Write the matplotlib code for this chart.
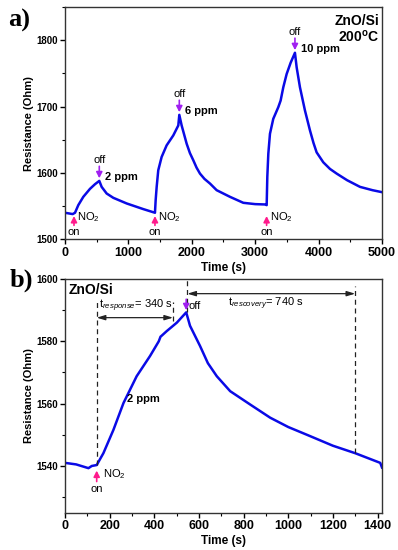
import matplotlib
matplotlib.use("Agg")
import matplotlib.pyplot as plt
from matplotlib.ticker import MultipleLocator

plt.rcParams['font.family'] = ['Liberation Sans', 'DejaVu Sans']
plt.rcParams['mathtext.fontset'] = 'custom'
plt.rcParams['mathtext.rm'] = 'Liberation Sans'
plt.rcParams['mathtext.it'] = 'Liberation Sans:italic'
plt.rcParams['mathtext.bf'] = 'Liberation Sans:bold'

# ---------------- data panel a ----------------
time_a = [0, 121, 158, 210, 289, 394, 473, 541, 578, 657, 762, 973, 1235, 1419,
          1430, 1446, 1471, 1524, 1603, 1708, 1787, 1803,
          1840, 1919, 1970, 2024, 2075, 2129, 2200, 2287, 2392, 2602, 2812, 3000, 3154, 3181,
          3191, 3207, 3233, 3285, 3364, 3401, 3443, 3496, 3559, 3627,
          3654, 3706, 3785, 3864, 3920, 3969, 4074, 4180, 4285, 4450, 4653, 4850, 5000]
res_a = [1540, 1538, 1540, 1551.5, 1564, 1576, 1583, 1588, 1579, 1569, 1562.5, 1554, 1545.5, 1540,
         1559, 1579, 1604, 1624, 1641.5, 1656.5, 1671.5, 1687.5,
         1671.5, 1644, 1630, 1619, 1608, 1599, 1591, 1584, 1574, 1564, 1555, 1553, 1552.5, 1551.5,
         1594, 1629, 1659, 1681.5, 1699, 1709, 1729, 1749, 1766, 1781,
         1759, 1729, 1694, 1664, 1645, 1631, 1616, 1606, 1599, 1589, 1579, 1574, 1571]
on_times_a = [142, 1419, 3180]
off_times_a = [541, 1803, 3627]
off_res_a = [1588, 1687.5, 1781]
ppm_labels = ['2 ppm', '6 ppm', '10 ppm']

# ---------------- data panel b ----------------
time_b = [0, 50, 105, 120, 142, 172, 217, 262, 321, 381, 420, 428, 433, 456, 501, 543,
          560, 605, 640, 680, 740, 830, 919, 1000, 1084, 1200, 1300, 1412, 1420]
res_b = [1541, 1540.5, 1539.3, 1540, 1540.3, 1544.1, 1551.6, 1560.2, 1568.8, 1575.3,
         1580, 1581.5, 1581.8, 1583.3, 1586, 1589.3,
         1585, 1578.5, 1573, 1568.8, 1564, 1559.7, 1555.5, 1552.5, 1550, 1546.5, 1544.1, 1541, 1539.5]
t_on_b = 142
t_resp_end = 484
t_off_b = 543
t_rec_end = 1300

line_color = '#0a0ae6'
on_color = '#ff1a8c'
off_color = '#a020f0'

fig = plt.figure(figsize=(3.98, 5.5), dpi=100)
axA = fig.add_axes([0.1633, 0.5649, 0.7965, 0.4224])
axB = fig.add_axes([0.1633, 0.0678, 0.7965, 0.4249])

def style(ax):
    for s in ax.spines.values():
        s.set_linewidth(1.0)
        s.set_color('#333333')
    ax.tick_params(axis='both', which='major', direction='out', length=3.5, width=1.0)
    ax.tick_params(axis='both', which='minor', direction='out', length=2, width=0.8)
    ax.tick_params(axis='x', labelsize=9, pad=2)
    ax.tick_params(axis='y', labelsize=7, pad=1.5)
    for lab in ax.get_xticklabels() + ax.get_yticklabels():
        lab.set_fontweight('bold')

# ---------- panel a ----------
axA.plot(time_a, res_a, color=line_color, lw=1.8)
axA.set_xlim(0, 5000)
axA.set_ylim(1500, 1850)
axA.xaxis.set_major_locator(MultipleLocator(1000))
axA.xaxis.set_minor_locator(MultipleLocator(500))
axA.yaxis.set_major_locator(MultipleLocator(100))
axA.yaxis.set_minor_locator(MultipleLocator(50))
style(axA)
axA.set_xlabel('Time (s)', fontsize=8.5, fontweight='bold', labelpad=2)
axA.set_ylabel('Resistance (Ohm)', fontsize=8, fontweight='bold', labelpad=2)

arrow_kw = dict(arrowstyle='-|>,head_width=0.18,head_length=0.35', lw=1.2, shrinkA=0, shrinkB=0)
for t in on_times_a:
    axA.annotate('', xy=(t, 1535), xytext=(t, 1521), arrowprops=dict(color=on_color, **arrow_kw))
    axA.text(t, 1518, 'on', fontsize=8, ha='center', va='top')
    axA.text(t + 55, 1534, 'NO$_2$', fontsize=8, ha='left', va='center')
for t, r, lab in zip(off_times_a, off_res_a, ppm_labels):
    axA.annotate('', xy=(t, r + 4), xytext=(t, r + 22), arrowprops=dict(color=off_color, **arrow_kw))
    axA.text(t, r + 24, 'off', fontsize=8, ha='center', va='bottom')
    axA.text(t + 90, r + 6, lab, fontsize=8, fontweight='bold', ha='left', va='center')
axA.text(4960, 1840, 'ZnO/Si\n200$^\\mathregular{o}$C', fontsize=10, fontweight='bold',
         ha='right', va='top', linespacing=1.05)

# ---------- panel b ----------
axB.plot(time_b, res_b, color=line_color, lw=1.8)
axB.set_xlim(0, 1420)
axB.set_ylim(1525, 1600)
axB.xaxis.set_major_locator(MultipleLocator(200))
axB.xaxis.set_minor_locator(MultipleLocator(100))
axB.yaxis.set_major_locator(MultipleLocator(20))
axB.yaxis.set_minor_locator(MultipleLocator(10))
style(axB)
axB.set_xlabel('Time (s)', fontsize=8.5, fontweight='bold', labelpad=2)
axB.set_ylabel('Resistance (Ohm)', fontsize=8, fontweight='bold', labelpad=2)

dash_kw = dict(color='#222222', lw=0.9, ls=(0, (4, 3)))
axB.plot([t_on_b, t_on_b], [1540.3, 1592.5], **dash_kw)
axB.plot([t_resp_end, t_resp_end], [1586.5, 1592.5], **dash_kw)
axB.plot([t_off_b + 5, t_off_b + 5], [1589.5, 1600], **dash_kw)
axB.plot([t_rec_end, t_rec_end], [1544.1, 1597.8], **dash_kw)

dbl = dict(arrowstyle='<|-|>,head_width=0.15,head_length=0.5', color='#222222', lw=0.9,
           shrinkA=0, shrinkB=0)
axB.annotate('', xy=(t_resp_end, 1587.6), xytext=(t_on_b, 1587.6), arrowprops=dbl)
axB.annotate('', xy=(t_rec_end, 1595.3), xytext=(t_off_b + 5, 1595.3), arrowprops=dbl)
axB.text(152, 1591.3, '$\\mathregular{t}_{\\mathit{response}}$= 340 s', fontsize=8,
         ha='left', va='center')
axB.text(730, 1592.0, '$\\mathregular{t}_{\\mathit{rescovery}}$= 740 s', fontsize=8,
         ha='left', va='center')

axB.annotate('', xy=(t_on_b, 1538.5), xytext=(t_on_b, 1535), arrowprops=dict(color=on_color, **arrow_kw))
axB.text(t_on_b, 1534.3, 'on', fontsize=8, ha='center', va='top')
axB.text(t_on_b + 27, 1537.5, 'NO$_2$', fontsize=8, ha='left', va='center')
axB.annotate('', xy=(t_off_b, 1590), xytext=(t_off_b, 1593.5), arrowprops=dict(color=off_color, **arrow_kw))
axB.text(t_off_b + 12, 1591.5, 'off', fontsize=8, ha='left', va='center')
axB.text(276, 1561.5, '2 ppm', fontsize=8, fontweight='bold', ha='left', va='center')
axB.text(15, 1596.6, 'ZnO/Si', fontsize=10, fontweight='bold', ha='left', va='center')

fig.text(0.02, 0.963, 'a)', fontsize=19, fontweight='bold', family='Liberation Serif',
         ha='left', va='center')
fig.text(0.025, 0.49, 'b)', fontsize=19, fontweight='bold', family='Liberation Serif',
         ha='left', va='center')

fig.savefig('out.png', dpi=100)
